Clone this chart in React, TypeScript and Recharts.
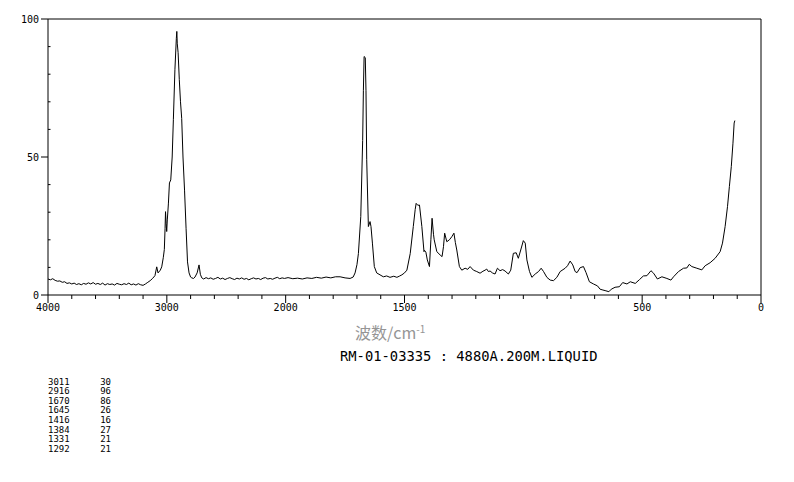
import React from "react";
import { LineChart, Line, XAxis, YAxis, ReferenceLine } from "recharts";

// Raman spectrum (wavenumber cm-1 → relative intensity)
const wavenumbers = [
  4000, 3980, 3960, 3940, 3920, 3900, 3880, 3860, 3840, 3820, 3800, 3780, 3760, 3740, 3720, 3700,
  3680, 3660, 3640, 3620, 3600, 3580, 3560, 3540, 3520, 3500, 3480, 3460, 3440, 3420, 3400, 3380,
  3360, 3340, 3320, 3300, 3280, 3260, 3240, 3220, 3200, 3180, 3160, 3140, 3120, 3100, 3085, 3074,
  3055, 3043, 3030, 3021, 3015, 3011, 3006, 3001, 2996, 2987, 2978, 2967, 2955, 2945, 2932, 2920,
  2916, 2912, 2905, 2895, 2885, 2875, 2864, 2851, 2838, 2826, 2813, 2800, 2790, 2775, 2763, 2745,
  2729, 2718, 2706, 2690, 2670, 2650, 2630, 2610, 2590, 2570, 2550, 2530, 2510, 2490, 2470, 2450,
  2430, 2410, 2390, 2370, 2350, 2330, 2310, 2290, 2270, 2250, 2230, 2210, 2190, 2170, 2150, 2130,
  2110, 2090, 2070, 2050, 2030, 2010, 1990, 1970, 1950, 1930, 1910, 1890, 1870, 1850, 1830, 1810,
  1790, 1771, 1750, 1729, 1716, 1708, 1700, 1694, 1684, 1676, 1673, 1670, 1665, 1662, 1659, 1652,
  1645, 1641, 1635, 1627, 1617, 1603, 1589, 1575, 1561, 1545, 1532, 1520, 1511, 1500, 1490, 1476,
  1463, 1455, 1451, 1444, 1437, 1427, 1418, 1416, 1410, 1404, 1395, 1389, 1384, 1378, 1375, 1364,
  1350, 1342, 1336, 1331, 1322, 1311, 1301, 1292, 1286, 1280, 1269, 1259, 1245, 1234, 1224, 1210,
  1196, 1182, 1170, 1161, 1154, 1147, 1140, 1130, 1119, 1109, 1098, 1087, 1077, 1063, 1053, 1042,
  1030, 1021, 1011, 1000, 992, 985, 974, 964, 950, 936, 925, 915, 901, 887, 873, 859,
  845, 824, 814, 803, 792, 782, 774, 761, 747, 736, 722, 705, 688, 677, 665, 656,
  640, 630, 614, 596, 582, 564, 550, 529, 511, 495, 480, 463, 452, 436, 417, 396,
  379, 368, 347, 326, 312, 302, 291, 270, 249, 235, 214, 193, 172, 162, 151, 141,
  133, 125, 118, 113, 110,
];

const intensities = [
  5.8, 5.5, 5.9, 5.3, 5.0, 5.1, 4.6, 4.8, 4.2, 4.4, 4.0, 4.3, 3.8, 4.1, 3.7, 4.2,
  3.9, 4.4, 4.0, 4.5, 3.9, 4.2, 3.8, 4.3, 3.6, 4.1, 3.8, 4.0, 3.6, 4.2, 3.9, 3.7,
  4.1, 3.8, 4.3, 3.7, 4.0, 3.6, 4.1, 3.7, 3.5, 4.0, 4.6, 5.2, 6.0, 7.0, 10.2, 8.0,
  9.0, 10.2, 13.5, 16.5, 24, 30.2, 26, 23, 27.2, 33, 40.6, 41.7, 50, 63.5, 81.6, 93,
  95.5, 91, 87.8, 78, 70, 64, 50, 38, 24, 12, 8, 6.5, 6.2, 6.0, 6.5, 8.0,
  10.9, 7.5, 6.2, 5.8, 6.3, 5.9, 6.2, 5.7, 6.0, 6.4, 5.8, 6.1, 5.6, 6.0, 6.3, 5.9,
  5.6, 6.1, 5.8, 6.2, 5.7, 6.0, 5.5, 5.9, 6.2, 5.8, 6.0, 5.6, 6.1, 6.3, 5.8, 6.0,
  5.7, 6.1, 6.4, 5.9, 6.2, 6.0, 6.3, 5.9, 6.1, 5.8, 6.2, 6.0, 6.4, 6.1, 6.5, 6.2,
  6.6, 6.6, 6.2, 6.0, 6.5, 8.0, 11, 15, 28.4, 56, 74, 86.4, 86, 74, 49, 24.8,
  26.6, 24.8, 18.8, 10.3, 8.0, 7.3, 6.6, 6.9, 6.4, 6.8, 6.4, 6.9, 7.3, 8.0, 9.0, 15,
  24.8, 31, 33.2, 32.5, 32.6, 24.8, 15.7, 16.2, 15.5, 12.7, 10.3, 20, 27.8, 22, 20, 15.7,
  14.5, 13.9, 17.5, 22.4, 19.3, 20, 21.1, 22.4, 19, 16.3, 10.3, 9.0, 9.7, 9.3, 10.3, 9.0,
  8.5, 7.9, 8.6, 9.0, 9.4, 8.5, 8.7, 8.0, 7.6, 9.7, 8.8, 9.2, 8.7, 7.6, 9.0, 15.1,
  15.3, 13.3, 16.3, 19.7, 18.8, 12.7, 8.5, 6.4, 7.6, 8.5, 9.7, 8.5, 6.4, 5.4, 5.2, 6.4,
  8.5, 9.7, 10.6, 12.3, 10.9, 8.5, 8.1, 9.9, 10.3, 8.1, 4.8, 4.0, 3.3, 2.1, 1.8, 1.6,
  1.2, 2.1, 2.8, 3.0, 4.5, 4.0, 4.8, 4.2, 5.6, 6.9, 7.0, 8.8, 7.9, 5.8, 6.6, 6.0,
  5.4, 6.6, 8.5, 9.7, 9.8, 11.1, 10.3, 9.7, 9.1, 10.6, 11.7, 13.3, 15.7, 18.8, 24.8, 32,
  39.3, 46.5, 55, 62.3, 63.2,
];

const xMajorTicks = [4000, 3000, 2000, 1500, 500, 0];
const yMajorTicks = [0, 50, 100];

const peakWavenumbers = ["3011", "2916", "1670", "1645", "1416", "1384", "1331", "1292"];
const peakIntensities = ["30", "96", "86", "26", "16", "27", "21", "21"];

const sampleTitle = "RM-01-03335 : 4880A.200M.LIQUID";

// axis is compressed 2x above 2000 cm-1
const toPos = (wn: number) => (wn > 2000 ? 2000 + (wn - 2000) / 2 : wn);
const toWn = (pos: number) => (pos > 2000 ? 2000 + (pos - 2000) * 2 : pos);

const data = wavenumbers.map((wn, i) => ({ pos: toPos(wn), value: intensities[i] }));

const xTicks: number[] = [];
for (let p = 0; p <= 3000; p += 100) xTicks.push(p);
const yTicks: number[] = [];
for (let v = 0; v <= 100; v += 10) yTicks.push(v);

const majorPos = xMajorTicks.map(toPos);

const mono = "'DejaVu Sans Mono', monospace";

const XTick = (props: any) => {
  const { x, y, payload } = props;
  const major = majorPos.includes(payload.value);
  return (
    <g>
      <line x1={x} x2={x} y1={y} y2={y + (major ? 8 : 4)} stroke="#000" strokeWidth={1} />
      {major && (
        <text x={x} y={y + 16} textAnchor="middle" fontSize={10} fontFamily={mono} fill="#000">
          {toWn(payload.value)}
        </text>
      )}
    </g>
  );
};

const YTick = (props: any) => {
  const { x, y, payload } = props;
  const major = yMajorTicks.includes(payload.value);
  if (major) {
    return (
      <g>
        <line x1={x - 7} x2={x} y1={y} y2={y} stroke="#000" strokeWidth={1} />
        <text x={x - 9} y={y + 3.5} textAnchor="end" fontSize={10} fontFamily={mono} fill="#000">
          {payload.value}
        </text>
      </g>
    );
  }
  return <line x1={x} x2={x + 2.5} y1={y} y2={y} stroke="#000" strokeWidth={1} />;
};

export default function App() {
  return (
    <div style={{ position: "relative", width: 794, height: 482, background: "#fff", overflow: "hidden" }}>
      <style>{"body{margin:0}"}</style>
      <LineChart width={794} height={330} data={data} margin={{ top: 19, right: 33, left: 8, bottom: 15 }}>
        <XAxis
          dataKey="pos"
          type="number"
          domain={[0, 3000]}
          reversed
          ticks={xTicks}
          interval={0}
          tickSize={0}
          tickMargin={0}
          height={20}
          axisLine={{ stroke: "#000", strokeWidth: 1 }}
          tickLine={false}
          tick={<XTick />}
        />
        <YAxis
          type="number"
          domain={[0, 100]}
          ticks={yTicks}
          interval={0}
          tickSize={0}
          tickMargin={0}
          width={40}
          axisLine={{ stroke: "#000", strokeWidth: 1 }}
          tickLine={false}
          tick={<YTick />}
        />
        <ReferenceLine y={100} stroke="#000" strokeWidth={1} />
        <ReferenceLine x={0} stroke="#000" strokeWidth={1} />
        <Line
          type="linear"
          dataKey="value"
          stroke="#000"
          strokeWidth={1}
          dot={false}
          isAnimationActive={false}
        />
      </LineChart>

      <div
        style={{
          position: "absolute",
          left: 355,
          top: 323,
          fontFamily: "'Noto Sans CJK SC', sans-serif",
          fontSize: 16,
          lineHeight: "18px",
          color: "#959595",
          whiteSpace: "nowrap",
        }}
      >
        波数/cm<span style={{ fontSize: 10, verticalAlign: "super", lineHeight: "10px" }}>-1</span>
      </div>

      <div
        style={{
          position: "absolute",
          left: 340,
          top: 348,
          fontFamily: mono,
          fontSize: 13.8,
          lineHeight: "16px",
          color: "#000",
          whiteSpace: "pre",
        }}
      >
        {sampleTitle}
      </div>

      {peakWavenumbers.map((wn, i) => (
        <div
          key={wn}
          style={{
            position: "absolute",
            left: 48,
            top: 376.5 + i * 9.6,
            width: 63,
            height: 10,
            fontFamily: mono,
            fontSize: 9,
            lineHeight: "10px",
            color: "#000",
            whiteSpace: "pre",
          }}
        >
          <span>{wn}</span>
          <span style={{ position: "absolute", right: 0, top: 0 }}>{peakIntensities[i]}</span>
        </div>
      ))}
    </div>
  );
}
